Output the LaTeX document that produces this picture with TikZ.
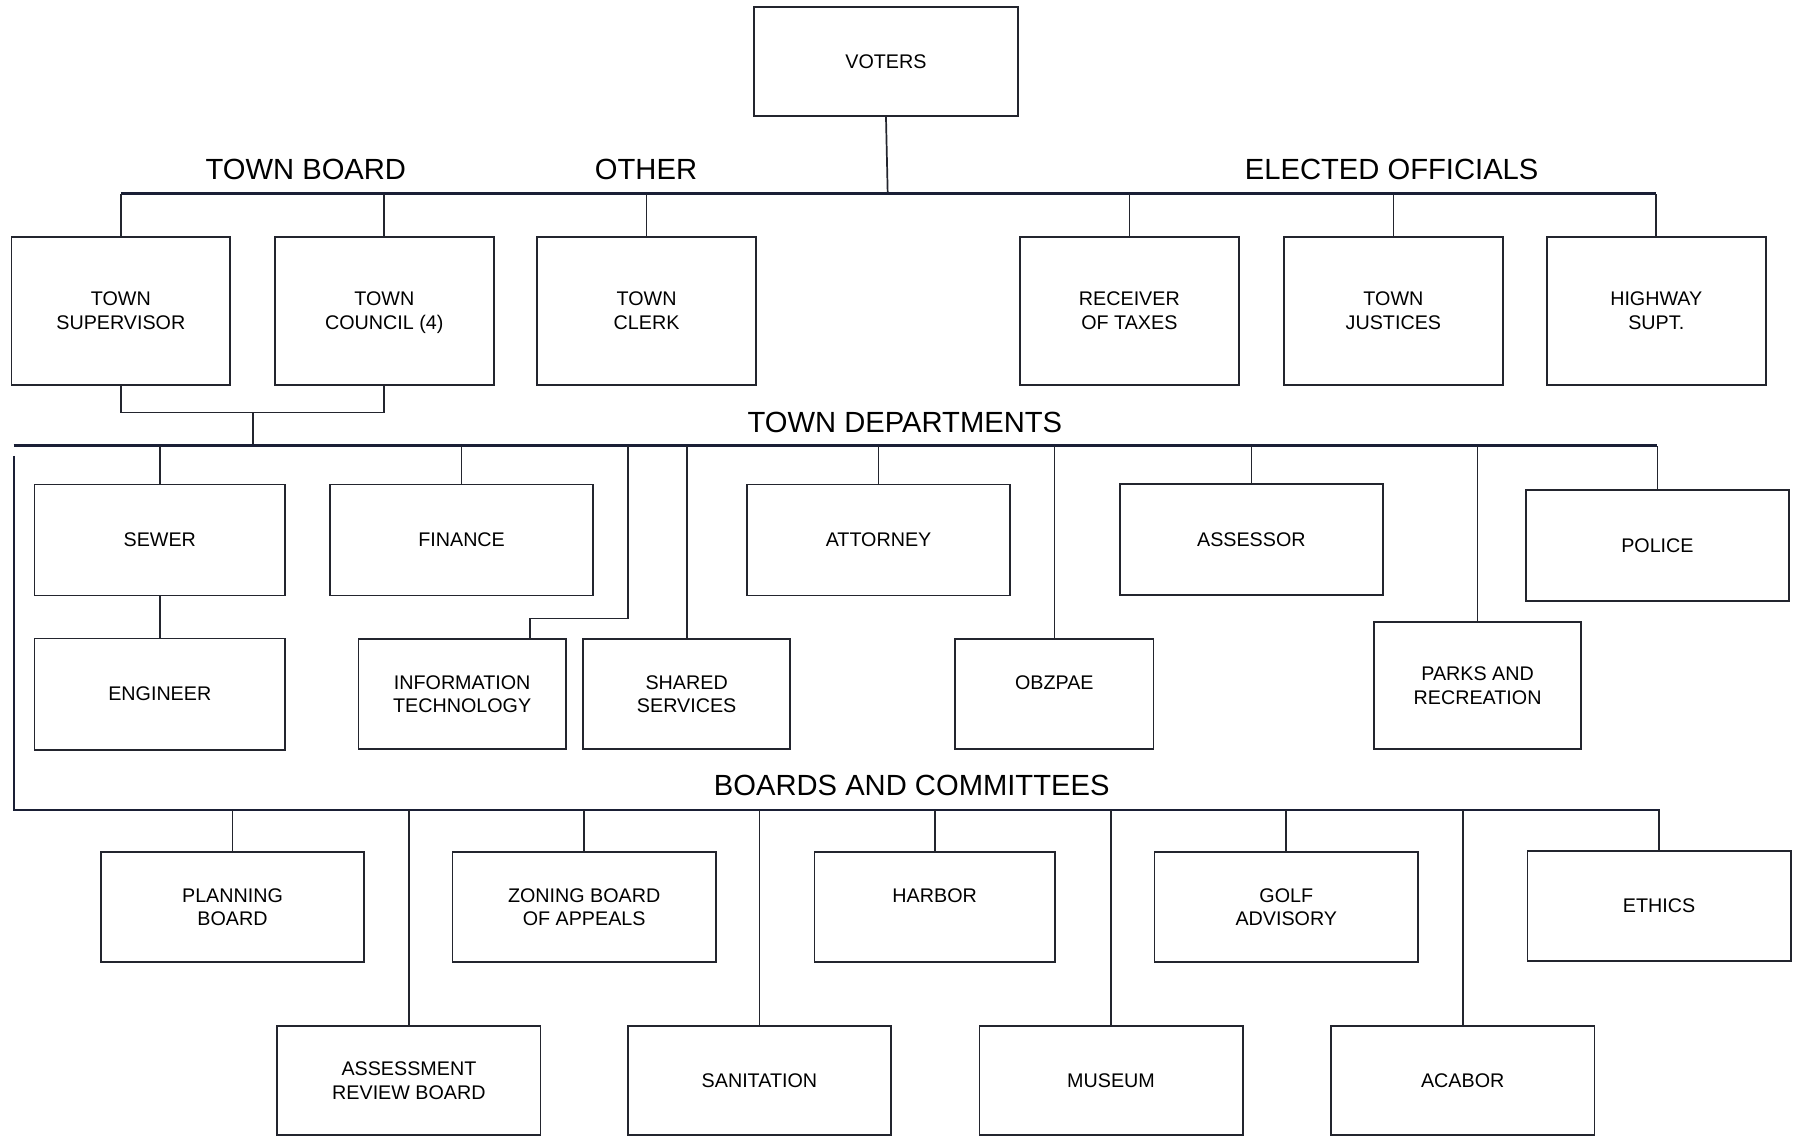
\documentclass[tikz,border=0pt]{standalone}
\usepackage{fontspec}
\setmainfont{Liberation Sans}
\usetikzlibrary{positioning}
\definecolor{colorLine}{HTML}{23252E}
\definecolor{colorBus}{HTML}{1A1F35}
\def\colorLine{colorLine}
\def\colorBus{colorBus}

\tikzset{
  unit/.style={draw=\colorLine, line width=0.85pt, inner sep=0pt, align=center,
    font=\fontsize{9.8pt}{11.8pt}\selectfont},
  elected/.style={unit, minimum width=3.82cm, minimum height=2.58cm},
  dept/.style={unit, minimum width=4.6cm, minimum height=1.94cm},
  deptsmall/.style={unit, minimum width=3.62cm, minimum height=1.92cm},
  board/.style={unit, minimum width=4.6cm, minimum height=1.92cm},
  head/.style={inner sep=0pt, font=\fontsize{14.5pt}{17pt}\selectfont},
  link/.style={draw=\colorLine, line width=0.85pt},
  bus/.style={draw=\colorBus, line width=1.1pt}
}

\begin{document}
\begin{tikzpicture}[x=0.02cm, y=-0.02cm]
\useasboundingbox (0,0) rectangle (1568,992);

% voters and elected officials
\node[unit, minimum width=4.62cm, minimum height=1.9cm] (voters) at (773.5,53.5) {VOTERS};

\node[head] (hboard) at (267,148) {TOWN BOARD};
\node[head] (hother) at (564,148) {OTHER};
\node[head] (helected) at (1215,148) {ELECTED OFFICIALS};

\node[elected] (sup) at (105.5,271.5) {TOWN\\SUPERVISOR};
\node[elected] (council) at (335.5,271.5) {TOWN\\COUNCIL \smash{(4)}};
\node[elected] (clerk) at (564.5,271.5) {TOWN\\CLERK};
\node[elected] (receiver) at (986,271.5) {RECEIVER\\OF TAXES};
\node[elected] (justices) at (1216.5,271.5) {TOWN\\JUSTICES};
\node[elected] (highway) at (1446,271.5) {HIGHWAY\\SUPT.};

\coordinate (topbus) at (775,169);
\draw[link] (voters.south) -- (topbus);
\draw[bus] (sup.north |- topbus) -- (highway.north |- topbus);
\draw[link] (sup.north) -- (sup.north |- topbus);
\draw[link] (council.north) -- (council.north |- topbus);
\draw[link] (clerk.north) -- (clerk.north |- topbus);
\draw[link] (receiver.north) -- (receiver.north |- topbus);
\draw[link] (justices.north) -- (justices.north |- topbus);
\draw[link] (highway.north) -- (highway.north |- topbus);

% town departments
\node[head] (hdept) at (790,369) {TOWN DEPARTMENTS};

\node[dept, minimum width=4.38cm] (sewer) at (139.5,471.5) {SEWER};
\node[dept] (finance) at (403,471.5) {FINANCE};
\node[dept] (attorney) at (767,471.5) {ATTORNEY};
\node[dept] (assessor) at (1092.5,471) {ASSESSOR};
\node[dept] (police) at (1447,476) {POLICE};

\node[dept, minimum width=4.38cm] (engineer) at (139.5,606) {ENGINEER};
\node[deptsmall] (infotech) at (403.5,606) {INFORMATION\\TECHNOLOGY};
\node[deptsmall] (shared) at (599.5,606) {SHARED\\SERVICES};
\node[deptsmall, minimum width=3.46cm] (obzpae) at (920.5,606) {OBZPAE\\\mbox{}};
\node[deptsmall, minimum height=2.22cm] (parks) at (1290,598.5) {PARKS AND\\RECREATION};

\coordinate (tbjoin) at (221,360);
\coordinate (deptL) at (12,389);
\coordinate (deptR) at (1447,389);
\draw[link] (sup.south) |- (tbjoin) -| (council.south);
\draw[link] (tbjoin) -- (tbjoin |- deptL);
\draw[bus] (deptL) -- (deptR);

\draw[link] (sewer.north) -- (sewer.north |- deptL);
\draw[link] (finance.north) -- (finance.north |- deptL);
\draw[link] (attorney.north) -- (attorney.north |- deptL);
\draw[link] (assessor.north) -- (assessor.north |- deptL);
\draw[link] (police.north) -- (deptR);
\draw[link] (sewer.south) -- (engineer.north);
\coordinate (itjog) at (548,540);
\coordinate (itin) at (463,558);
\draw[link] (itjog |- deptL) -- (itjog) -| (itin);
\draw[link] (shared.north) -- (shared.north |- deptL);
\draw[link] (obzpae.north) -- (obzpae.north |- deptL);
\draw[link] (parks.north) -- (parks.north |- deptL);

% boards and committees
\node[head] (hboards) at (796,686) {BOARDS AND COMMITTEES};

\node[board] (planning) at (203,792) {PLANNING\\BOARD};
\node[board] (zoning) at (510,792) {ZONING BOARD\\OF APPEALS};
\node[board, minimum width=4.2cm] (harbor) at (816,792) {HARBOR\\\mbox{}};
\node[board] (golf) at (1123,792) {GOLF\\ADVISORY};
\node[board] (ethics) at (1448.5,791) {ETHICS};

\node[board, minimum height=1.9cm] (review) at (357,943.5) {ASSESSMENT\\REVIEW BOARD};
\node[board, minimum height=1.9cm] (sanitation) at (663,943.5) {SANITATION};
\node[board, minimum height=1.9cm] (museum) at (970,943.5) {MUSEUM};
\node[board, minimum height=1.9cm] (acabor) at (1277,943.5) {ACABOR};

\coordinate (deptgap) at (12,398);
\coordinate (boardL) at (12,707);
\coordinate (boardR) at (1449,707);
\draw[bus] (deptgap) -- (boardL) -- (boardR);

\draw[link] (planning.north) -- (planning.north |- boardL);
\draw[link] (zoning.north) -- (zoning.north |- boardL);
\draw[link] (harbor.north) -- (harbor.north |- boardL);
\draw[link] (golf.north) -- (golf.north |- boardL);
\draw[link] (ethics.north) -- (ethics.north |- boardL);
\draw[link] (review.north) -- (review.north |- boardL);
\draw[link] (sanitation.north) -- (sanitation.north |- boardL);
\draw[link] (museum.north) -- (museum.north |- boardL);
\draw[link] (acabor.north) -- (acabor.north |- boardL);

\end{tikzpicture}
\end{document}
